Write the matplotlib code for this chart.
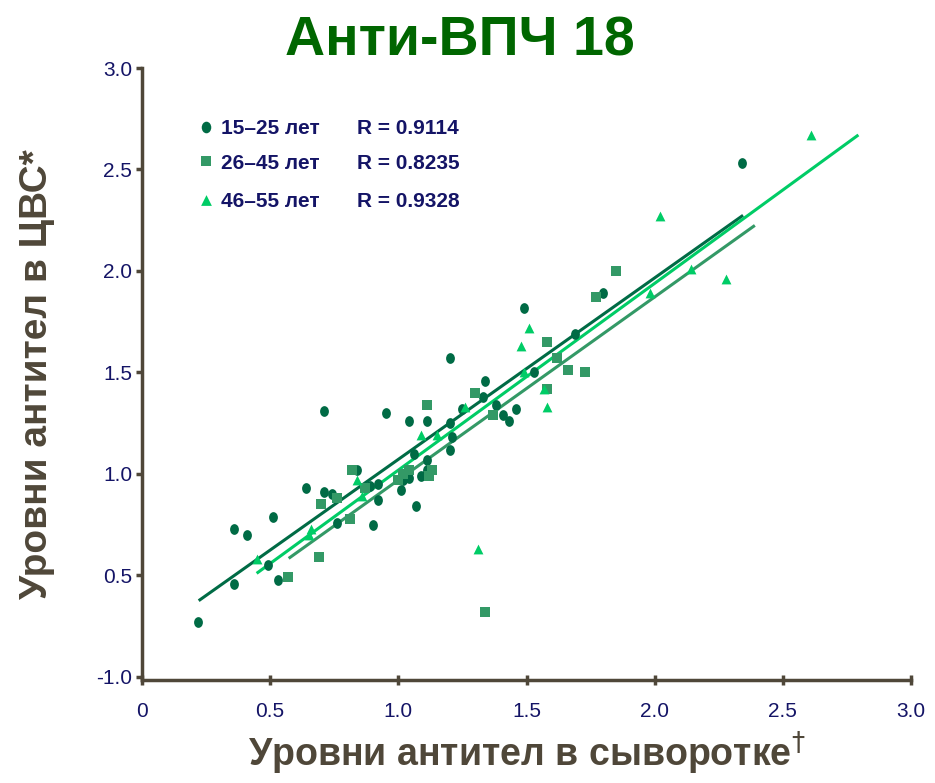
import numpy as np
import matplotlib
matplotlib.use('Agg')
import matplotlib.pyplot as plt
from matplotlib.path import Path

plt.rcParams['font.family'] = ['Liberation Sans', 'DejaVu Sans']

# 15-25 лет (circles)
x_young = [0.22, 0.36, 0.36, 0.41, 0.49, 0.51, 0.53, 0.64, 0.71, 0.71, 0.74, 0.76, 0.84, 0.89, 0.90,
           0.92, 0.92, 0.95, 1.01, 1.02, 1.04, 1.04, 1.06, 1.07, 1.09, 1.11, 1.11, 1.11, 1.20, 1.20,
           1.21, 1.20, 1.25, 1.33, 1.34, 1.38, 1.41, 1.43, 1.46, 1.49, 1.53, 1.69, 1.80, 2.34]
y_young = [0.27, 0.46, 0.73, 0.70, 0.55, 0.79, 0.48, 0.93, 1.31, 0.91, 0.90, 0.76, 1.02, 0.94, 0.75,
           0.95, 0.87, 1.30, 0.92, 0.97, 0.98, 1.26, 1.10, 0.84, 0.99, 1.02, 1.07, 1.26, 1.25, 1.12,
           1.18, 1.57, 1.32, 1.38, 1.46, 1.34, 1.29, 1.26, 1.32, 1.82, 1.50, 1.69, 1.89, 2.53]

# 26-45 лет (squares)
x_mid = [0.57, 0.69, 0.70, 0.76, 0.81, 0.82, 0.87, 1.00, 1.02, 1.04, 1.11, 1.12, 1.13, 1.30, 1.34,
         1.37, 1.58, 1.58, 1.62, 1.66, 1.73, 1.77, 1.85]
y_mid = [0.49, 0.59, 0.85, 0.88, 0.78, 1.02, 0.93, 0.97, 1.00, 1.02, 1.34, 0.99, 1.02, 1.40, 0.32,
         1.29, 1.42, 1.65, 1.57, 1.51, 1.50, 1.87, 2.00]

# 46-55 лет (triangles)
x_old = [0.45, 0.65, 0.66, 0.84, 0.86, 1.09, 1.15, 1.26, 1.31, 1.48, 1.49, 1.51, 1.57, 1.58, 1.98,
         2.02, 2.14, 2.28, 2.61]
y_old = [0.58, 0.70, 0.73, 0.97, 0.89, 1.19, 1.19, 1.33, 0.63, 1.63, 1.50, 1.72, 1.42, 1.33, 1.89,
         2.27, 2.01, 1.96, 2.67]

groups = ['15–25 лет', '26–45 лет', '46–55 лет']
r_values = [0.9114, 0.8235, 0.9328]
# regression lines: slope, intercept, x range
slopes = [0.894, 0.902, 0.920]
intercepts = [0.178, 0.068, 0.099]
x_ranges = [(0.226, 2.34), (0.577, 2.386), (0.452, 2.79)]

y_ticks = [0, 0.5, 1.0, 1.5, 2.0, 2.5, 3.0]
y_tick_labels = ['-1.0', '0.5', '1.0', '1.5', '2.0', '2.5', '3.0']
x_ticks = [0, 0.5, 1.0, 1.5, 2.0, 2.5, 3.0]
x_tick_labels = ['0', '0.5', '1.0', '1.5', '2.0', '2.5', '3.0']

colors = ['#006B45', '#339966', '#00CC66']
# slightly tall ellipse for the circles, like the original
circ = Path.unit_circle()
ellipse = Path(circ.vertices * [0.82, 1.0], circ.codes)
markers = [ellipse, 's', '^']
sizes = [60, 50, 50]
axis_col = '#4F4739'
navy = '#141466'
narrow = ['Liberation Sans Narrow', 'Liberation Sans', 'DejaVu Sans']

fig = plt.figure(figsize=(9.35, 7.83), dpi=100)
ax = fig.add_axes([142 / 935, 103 / 783, 769 / 935, 612 / 783])

xs = [x_young, x_mid, x_old]
ys = [y_young, y_mid, y_old]
for i in range(3):
    ax.scatter(xs[i], ys[i], marker=markers[i], s=sizes[i], color=colors[i], linewidths=0, zorder=3)
    xl = np.array(x_ranges[i])
    ax.plot(xl, slopes[i] * xl + intercepts[i], color=colors[i], lw=2.2, zorder=2)

ax.set_xlim(0, 3.0)
ax.set_ylim(-0.015, 3.0)
ax.set_xticks(x_ticks)
ax.set_xticklabels(x_tick_labels, family=narrow, fontsize=15, color=navy)
ax.set_yticks(y_ticks)
ax.set_yticklabels(y_tick_labels, family=narrow, fontsize=15, color=navy)
ax.tick_params(axis='y', direction='out', length=4, width=2.5, color=axis_col, pad=3)
ax.tick_params(axis='x', direction='inout', length=7, width=2.5, color=axis_col, pad=12)

for s in ['top', 'right']:
    ax.spines[s].set_visible(False)
for s in ['left', 'bottom']:
    ax.spines[s].set_color(axis_col)
    ax.spines[s].set_linewidth(2.5)

# legend
leg_y = [2.70, 2.53, 2.34]
for i in range(3):
    ax.scatter([0.25], [leg_y[i] + 0.01], marker=markers[i], s=sizes[i] + 10, color=colors[i],
               linewidths=0, clip_on=False)
    ax.text(0.31, leg_y[i], groups[i], fontsize=15, fontweight='bold', color=navy, va='center')
    ax.text(0.84, leg_y[i], 'R = %.4f' % r_values[i], fontsize=15, fontweight='bold', color=navy,
            va='center')

fig.text(0.492, 0.947, 'Анти-ВПЧ 18', ha='center', va='center', fontsize=40, fontweight='bold',
         color='#006600')
ax.set_xlabel('Уровни антител в сыворотке$^{\\dagger}$', family=narrow, fontsize=27,
              fontweight='bold', color=axis_col, labelpad=6)
ax.set_ylabel('Уровни антител в ЦВС*', family=narrow, fontsize=28, fontweight='bold',
              color=axis_col, labelpad=30)

fig.savefig('out.png', dpi=100)
